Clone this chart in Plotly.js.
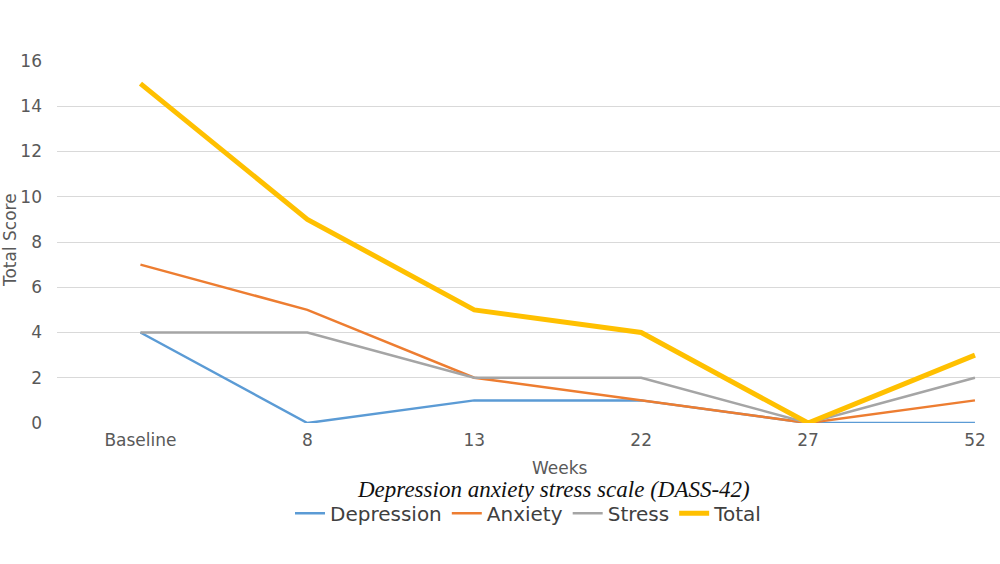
<!DOCTYPE html>
<html>
<head>
<meta charset="utf-8">
<script src="https://cdn.plot.ly/plotly-3.0.1.min.js"></script>
<style>html,body{margin:0;padding:0;background:#fff;}#chart{width:1000px;height:564px;}</style>
</head>
<body>
<div id="chart"></div>
<script>
const categories = ["Baseline", "8", "13", "22", "27", "52"];
const depression = [4, 0, 1, 1, 0, 0];
const anxiety = [7, 5, 2, 1, 0, 1];
const stress = [4, 4, 2, 2, 0, 2];
const total = [15, 9, 5, 4, 0, 3];
const yTicks = [0, 2, 4, 6, 8, 10, 12, 14, 16];

const font = "DejaVu Sans, sans-serif";
const mk = (name, y, color, width) => ({
  type: "scatter", mode: "lines", name: name, x: categories, y: y,
  line: {color: color, width: width}, hoverinfo: "skip"
});
const data = [
  mk("Depression", depression, "#5B9BD5", 2.5),
  mk("Anxiety", anxiety, "#ED7D31", 2.5),
  mk("Stress", stress, "#A5A5A5", 2.5),
  mk("Total", total, "#FFC000", 5)
];
const layout = {
  width: 1000, height: 564,
  margin: {l: 57, r: 0, t: 61, b: 141},
  paper_bgcolor: "#fff", plot_bgcolor: "#fff",
  font: {family: font, color: "#595959", size: 17},
  showlegend: true,
  legend: {orientation: "h", x: 0.50, xanchor: "center", y: -0.249, yanchor: "middle",
           font: {family: font, size: 20, color: "#404040"}, itemwidth: 30, tracegroupgap: 0},
  xaxis: {type: "category", range: [-0.5, 5.15], showgrid: false, zeroline: false, showline: false,
          ticks: "", tickfont: {family: font, size: 17, color: "#595959"}, ticklabelstandoff: 5},
  yaxis: {range: [0, 16], tickvals: yTicks, showgrid: true, gridcolor: "#D9D9D9", gridwidth: 1,
          zeroline: false, showline: false, ticks: "",
          tickfont: {family: font, size: 17, color: "#595959"}, ticklabelstandoff: 14},
  annotations: [
    {text: "Weeks", xref: "paper", yref: "paper", x: 0.533, y: -0.124, showarrow: false,
     font: {family: font, size: 17, color: "#595959"}, xanchor: "center", yanchor: "middle"},
    {text: "<i>Depression anxiety stress scale (DASS-42)</i>", xref: "paper", yref: "paper", x: 0.526, y: -0.184,
     showarrow: false, font: {family: "Liberation Serif, serif", size: 23, color: "#111"}, xanchor: "center", yanchor: "middle"},
    {text: "Total Score", xref: "paper", yref: "paper", x: -0.050, y: 0.505, textangle: -90, showarrow: false,
     font: {family: font, size: 17, color: "#595959"}, xanchor: "center", yanchor: "middle"}
  ]
};
Plotly.newPlot("chart", data, layout, {displayModeBar: false, staticPlot: true});
</script>
</body>
</html>
